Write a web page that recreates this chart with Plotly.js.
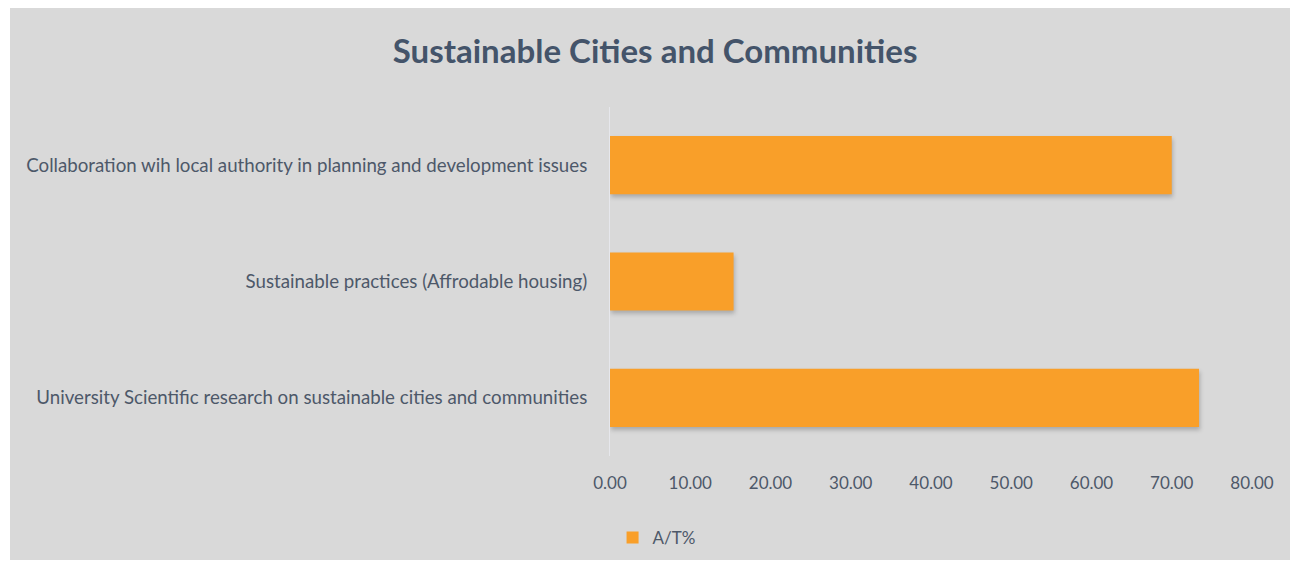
<!DOCTYPE html>
<html>
<head>
<meta charset="utf-8">
<script src="https://cdn.plot.ly/plotly-3.0.1.min.js"></script>
<style>
  html, body { margin: 0; padding: 0; background: #ffffff; width: 1295px; height: 564px; overflow: hidden; }
  #chart { position: absolute; left: 10px; top: 8px; width: 1280px; height: 552px; }
  #chart .barlayer .point path { filter: drop-shadow(1px 3px 2px rgba(0,0,0,0.22)); }
</style>
</head>
<body>
<div id="chart"></div>
<script>
const categories = [
  "University Scientific research on sustainable cities and communities",
  "Sustainable practices (Affrodable housing)",
  "Collaboration wih local authority in planning and development issues"
];
const values = [73.4, 15.4, 70.0];
const seriesName = "A/T%";
const chartTitle = "Sustainable Cities and Communities";
const tickValues = [0, 10, 20, 30, 40, 50, 60, 70, 80];

const labelColor = "#4d5869";
const fontFamily = "Lato, 'Open Sans', sans-serif";

const trace = {
  type: "bar",
  orientation: "h",
  x: values,
  y: categories,
  name: seriesName,
  marker: { color: "#f99f29" },
  hoverinfo: "skip"
};

const layout = {
  width: 1280,
  height: 552,
  paper_bgcolor: "#d9d9d9",
  plot_bgcolor: "#d9d9d9",
  margin: { l: 600, r: 38, t: 99, b: 104, autoexpand: false },
  bargap: 0.5,
  title: {
    text: "<b>" + chartTitle + "</b>",
    xref: "container", yref: "container",
    x: 0.504, y: 0.922, xanchor: "center", yanchor: "middle",
    font: { family: fontFamily, size: 33, color: "#44546a" }
  },
  xaxis: {
    range: [0, 80],
    tickvals: tickValues,
    tickformat: ".2f",
    showgrid: false,
    zeroline: false,
    showline: false,
    ticks: "",
    ticklabelstandoff: 15,
    tickfont: { family: fontFamily, size: 17, color: labelColor }
  },
  yaxis: {
    type: "category",
    showgrid: false,
    zeroline: false,
    showline: true,
    linecolor: "#e6e7ec",
    linewidth: 1,
    ticks: "",
    ticklabelstandoff: 18,
    tickfont: { family: fontFamily, size: 18.7, color: labelColor }
  },
  showlegend: true,
  legend: {
    orientation: "h",
    x: 0.004, xanchor: "left",
    y: -0.235, yanchor: "middle",
    bgcolor: "rgba(0,0,0,0)",
    font: { family: fontFamily, size: 17, color: labelColor },
    itemwidth: 30
  }
};

Plotly.newPlot("chart", [trace], layout, { displayModeBar: false, staticPlot: true });
</script>
</body>
</html>
